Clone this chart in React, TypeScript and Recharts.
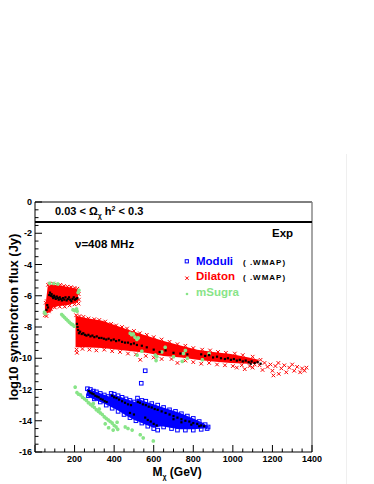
import React from 'react';
import { ComposedChart, Area, Scatter, XAxis, YAxis, ReferenceLine } from 'recharts';

const FONT = 'Liberation Sans, Arial, Helvetica, sans-serif';

// axis ticks
const massTicks = [0, 50, 100, 150, 200, 250, 300, 350, 400, 450, 500, 550, 600, 650, 700, 750, 800, 850, 900, 950, 1000, 1050, 1100, 1150, 1200, 1250, 1300, 1350, 1400];
const massLabels = [200, 400, 600, 800, 1000, 1200, 1400];
const fluxTicks = [0, -0.5, -1, -1.5, -2, -2.5, -3, -3.5, -4, -4.5, -5, -5.5, -6, -6.5, -7, -7.5, -8, -8.5, -9, -9.5, -10, -10.5, -11, -11.5, -12, -12.5, -13, -13.5, -14, -14.5, -15, -15.5, -16];
const fluxLabels = [0, -2, -4, -6, -8, -10, -12, -14, -16];

// dense cores of the scans: [M, low, high]
const dilatonCoreLow: [number, number, number][] = [
  [50, -7.15, -6.55], [56, -7.2, -6.3], [64, -7.1, -5.4], [82, -7.0, -5.3], [90, -6.75, -5.3],
  [120, -6.65, -5.35], [160, -6.6, -5.42], [195, -6.5, -5.5], [218, -6.4, -5.6],
];
const dilatonCoreHigh: [number, number, number][] = [
  [205, -9.3, -7.3], [250, -9.3, -7.4], [340, -9.35, -7.6], [420, -9.45, -7.95], [490, -9.55, -8.25],
  [560, -9.65, -8.55], [650, -9.85, -8.9], [740, -9.95, -9.2], [820, -10.1, -9.45], [900, -10.2, -9.6],
  [990, -10.3, -9.72], [1080, -10.35, -9.95], [1130, -10.3, -10.1],
];
const moduliCore: [number, number, number][] = [
  [262, -12.4, -11.95], [300, -12.65, -12.1], [340, -12.85, -12.28], [375, -13.05, -12.45], [382, -13.1, -12.25],
  [420, -13.35, -12.42], [464, -13.7, -12.62], [510, -14.0, -12.82], [516, -14.02, -12.57], [560, -14.25, -12.78],
  [600, -14.45, -12.95], [640, -14.35, -13.12], [684, -14.45, -13.3], [734, -14.55, -13.5], [800, -14.55, -13.85],
  [851, -14.5, -14.15], [876, -14.45, -14.4],
];

// scattered points: [M (GeV), log10 flux (Jy)]
const dilatonPts: [number, number][] = [
  [50, -7.25], [54, -6.45], [60, -6.35], [66, -5.3], [74, -5.25], [92, -5.22], [110, -5.3], [128, -5.3],
  [146, -5.38], [164, -5.42], [182, -5.45], [200, -5.5], [214, -5.55], [221, -5.9], [222, -6.25], [220, -6.5],
  [70, -7.0], [80, -6.85], [100, -6.75], [125, -6.7], [150, -6.7], [175, -6.62], [200, -6.55], [58, -7.3],
  [208, -7.25], [225, -7.3], [245, -7.35], [270, -7.45], [300, -7.5], [325, -7.55], [355, -7.65], [385, -7.8],
  [410, -7.9], [440, -8.0], [465, -8.1], [500, -8.25], [530, -8.4], [565, -8.5], [600, -8.65], [640, -8.8],
  [680, -8.95], [720, -9.1], [760, -9.2], [800, -9.35], [845, -9.45], [885, -9.5], [925, -9.6], [965, -9.65],
  [1010, -9.7], [1050, -9.8], [1100, -9.9],
  [210, -9.45], [212, -9.65], [240, -9.4], [275, -9.45], [310, -9.5], [350, -9.45], [390, -9.55], [430, -9.6],
  [470, -9.7], [510, -9.75], [532, -10.1], [560, -9.85], [600, -9.95], [640, -10.05], [690, -10.05], [720, -10.3],
  [760, -10.15], [800, -10.25], [840, -10.35], [880, -10.3], [920, -10.4], [960, -10.45], [1000, -10.5],
  [1020, -10.6], [1045, -10.45], [1060, -10.7], [1085, -10.5], [1100, -10.6], [1120, -10.2], [1135, -10.45],
  [1150, -10.75], [1160, -10.3], [1175, -10.55], [1190, -10.4], [1200, -10.8], [1215, -10.5], [1230, -10.3],
  [1232, -11.0], [1245, -10.65], [1260, -10.45], [1270, -10.9], [1285, -10.6], [1300, -10.4], [1310, -10.8],
  [1325, -10.55], [1340, -10.9], [1350, -10.65], [1362, -10.8], [1372, -10.6], [1205, -11.1], [1140, -10.1],
  [1110, -10.4],
];
const msugraPts: [number, number][] = [
  [48, -7.05], [52, -7.15], [74, -5.2], [95, -5.22], [115, -5.25], [218, -5.8], [222, -5.65],
  [192, -6.9], [200, -6.95], [210, -6.85], [213, -7.0],
  [135, -7.2], [142, -7.3], [150, -7.4], [158, -7.5], [166, -7.6], [174, -7.7], [182, -7.8], [190, -7.85], [198, -7.95],
  [481, -8.4], [489, -8.5], [497, -8.45], [505, -8.65], [515, -8.8], [522, -8.7], [516, -9.8], [540, -9.55],
  [608, -9.8], [612, -10.15], [616, -9.9], [641, -9.6], [658, -9.3], [700, -9.9], [744, -10.2], [750, -9.7],
  [760, -9.5], [770, -10.0], [846, -10.1], [880, -9.7],
  [203, -11.85], [212, -12.2], [220, -12.3], [230, -12.35], [240, -12.5], [250, -12.6], [260, -12.7], [270, -12.85],
  [280, -12.95], [290, -13.05], [300, -13.15], [310, -13.3], [320, -13.4], [330, -13.5], [340, -13.6], [350, -13.75],
  [360, -13.85], [370, -13.95], [380, -14.05], [390, -14.15], [400, -14.3], [410, -14.4], [418, -14.55], [355, -14.2],
  [372, -14.45], [395, -14.6], [415, -14.1], [325, -13.25], [295, -12.9], [456, -14.4], [470, -14.5], [491, -14.6],
  [532, -14.9], [547, -15.1], [598, -15.3],
];
const moduliPts: [number, number][] = [
  [557, -10.8], [537, -11.6],
  [265, -11.95], [280, -12.0], [295, -12.1], [310, -12.15], [330, -12.25], [350, -12.35], [370, -12.45], [385, -12.25],
  [400, -12.3], [420, -12.4], [440, -12.5], [460, -12.6], [480, -12.7], [500, -12.8], [518, -12.55], [540, -12.7],
  [560, -12.75], [590, -12.9], [620, -13.0], [650, -13.15], [680, -13.3], [710, -13.4], [740, -13.55], [770, -13.7],
  [800, -13.85], [830, -14.05], [860, -14.25], [875, -14.4],
  [270, -12.4], [300, -12.6], [330, -12.8], [360, -13.0], [390, -13.2], [420, -13.4], [450, -13.6], [480, -13.8],
  [510, -14.0], [540, -14.15], [570, -14.35], [600, -14.5], [620, -14.6], [650, -14.4], [690, -14.5], [720, -14.6],
  [760, -14.6], [800, -14.6], [840, -14.55], [870, -14.5],
];
// points passing the WMAP cut (black)
const dilatonWmap: [number, number][] = [
  [58, -6.9], [62, -6.6], [66, -6.75], [72, -5.95], [76, -5.8], [80, -6.0], [84, -5.9], [88, -6.05], [92, -6.15],
  [96, -6.0], [100, -6.1], [105, -6.2], [110, -6.05], [115, -6.15], [120, -6.25], [125, -6.1], [130, -6.2],
  [136, -6.3], [142, -6.15], [148, -6.25], [154, -6.1], [160, -6.3], [166, -6.2], [172, -6.1], [178, -6.25],
  [184, -6.35], [190, -6.2], [196, -6.1], [202, -6.25], [208, -6.2], [214, -6.15],
  [212, -7.8], [215, -8.0], [218, -8.2], [222, -8.4], [228, -8.3], [236, -8.45], [244, -8.4], [252, -8.5],
  [260, -8.55], [270, -8.5], [280, -8.6], [290, -8.55], [300, -8.65], [312, -8.6], [324, -8.7], [336, -8.7],
  [348, -8.75], [360, -8.8], [372, -8.75], [385, -8.85], [398, -8.8], [410, -8.9], [425, -8.85], [440, -8.95],
  [455, -9.0], [470, -9.0], [485, -9.1], [500, -9.05], [515, -9.15], [540, -9.2], [565, -9.3], [600, -9.45],
  [630, -9.6], [660, -9.5], [700, -9.65], [735, -9.7], [770, -9.75], [840, -9.75], [860, -9.85], [880, -9.8],
  [900, -9.95], [920, -9.9], [940, -10.0], [960, -10.05], [975, -10.0], [990, -10.1], [1005, -10.05], [1020, -10.15],
  [1035, -10.1], [1050, -10.2], [1065, -10.15], [1080, -10.25], [1095, -10.2], [1110, -10.3], [1125, -10.25],
  [1140, -10.35], [1090, -10.35],
];
const moduliWmap: [number, number][] = [
  [272, -12.1], [280, -12.2], [288, -12.25], [296, -12.3], [305, -12.4], [314, -12.45], [322, -12.5], [332, -12.6],
  [342, -12.65], [352, -12.75], [362, -12.8],
  [390, -12.4], [400, -12.5], [412, -12.55], [425, -12.65], [440, -12.75], [455, -12.85], [470, -12.95], [485, -13.0],
  [520, -12.8], [530, -12.85], [545, -12.95], [560, -13.0], [575, -13.1], [590, -13.15], [605, -13.25], [620, -13.3],
  [640, -13.4], [660, -13.5], [680, -13.6], [700, -13.7], [720, -13.8], [740, -13.9], [760, -14.0], [780, -14.05],
  [800, -14.15], [820, -14.2], [840, -14.3], [855, -14.35], [700, -13.9], [740, -14.1], [790, -14.25], [830, -14.35],
  [557, -13.8], [570, -13.95], [585, -14.05], [600, -14.2], [615, -14.3], [500, -13.6], [480, -13.5],
];

const toPts = (a: [number, number][]) => a.map(([m, v]) => ({ m, v }));
const toBand = (a: [number, number, number][]) => a.map(([m, lo, hi]) => ({ m, range: [lo, hi] }));

const RED = '#ff0000';
const BLUE = '#0000ff';
const GREEN = '#88e488';

const Cross = (p: any) => (
  <path d={`M${p.cx - 1.8},${p.cy - 1.8}L${p.cx + 1.8},${p.cy + 1.8}M${p.cx - 1.8},${p.cy + 1.8}L${p.cx + 1.8},${p.cy - 1.8}`} stroke={RED} strokeWidth={1} />
);
const Square = (p: any) => (
  <rect x={p.cx - 1.8} y={p.cy - 1.8} width={3.6} height={3.6} fill="none" stroke={BLUE} strokeWidth={1} />
);
const Star = (p: any) => (
  <path d={`M${p.cx - 1.8},${p.cy}L${p.cx + 1.8},${p.cy}M${p.cx},${p.cy - 1.8}L${p.cx},${p.cy + 1.8}M${p.cx - 1.3},${p.cy - 1.3}L${p.cx + 1.3},${p.cy + 1.3}M${p.cx - 1.3},${p.cy + 1.3}L${p.cx + 1.3},${p.cy - 1.3}`} stroke={GREEN} strokeWidth={1.2} />
);
const Dot = (p: any) => <rect x={p.cx - 1.1} y={p.cy - 1.1} width={2.2} height={2.2} fill="#000" />;

const MassTick = (props: any) => {
  const { x, y, payload } = props;
  const major = massLabels.includes(payload.value) || payload.value === 0;
  return (
    <g>
      <line x1={x} x2={x} y1={y} y2={y - (major ? 7 : 3.5)} stroke="#000" strokeWidth={1} />
      {massLabels.includes(payload.value) && (
        <text x={x} y={y + 9.5} textAnchor="middle" fontSize={9} fontWeight="bold" fontFamily={FONT} fill="#000">
          {payload.value}
        </text>
      )}
    </g>
  );
};

const FluxTick = (props: any) => {
  const { x, y, payload } = props;
  const major = fluxLabels.includes(payload.value);
  return (
    <g>
      <line x1={x} x2={x + (major ? 7 : 3.5)} y1={y} y2={y} stroke="#000" strokeWidth={1} />
      {major && (
        <text x={x - 3} y={y + 3.2} textAnchor="end" fontSize={9} fontWeight="bold" fontFamily={FONT} fill="#000">
          {payload.value}
        </text>
      )}
    </g>
  );
};

export default function App() {
  return (
    <div style={{ position: 'absolute', left: 0, top: 0, width: 374, height: 484, background: '#fff', fontFamily: FONT }}>
      <div style={{ position: 'absolute', left: 346, top: 154, width: 1, height: 330, background: '#efefef' }} />
      <ComposedChart width={374} height={484} margin={{ top: 202, right: 62, bottom: 0, left: 0 }}>
        <XAxis
          type="number"
          dataKey="m"
          domain={[0, 1400]}
          ticks={massTicks}
          interval={0}
          allowDataOverflow
          height={32}
          tickSize={0}
          tickMargin={0}
          tickLine={false}
          tick={MassTick}
          axisLine={{ stroke: '#000', strokeWidth: 1 }}
        />
        <YAxis
          type="number"
          dataKey="v"
          domain={[-16, 0]}
          ticks={fluxTicks}
          interval={0}
          allowDataOverflow
          width={35}
          tickSize={0}
          tickMargin={0}
          tickLine={false}
          tick={FluxTick}
          axisLine={{ stroke: '#000', strokeWidth: 1 }}
        />
        <Area data={toBand(dilatonCoreLow)} dataKey="range" type="linear" stroke="none" fill={RED} fillOpacity={1} dot={false} activeDot={false} isAnimationActive={false} />
        <Area data={toBand(dilatonCoreHigh)} dataKey="range" type="linear" stroke="none" fill={RED} fillOpacity={1} dot={false} activeDot={false} isAnimationActive={false} />
        <Scatter data={toPts(dilatonPts)} dataKey="v" shape={Cross} isAnimationActive={false} />
        <Scatter data={toPts(msugraPts)} dataKey="v" shape={Star} isAnimationActive={false} />
        <Area data={toBand(moduliCore)} dataKey="range" type="linear" stroke="none" fill={BLUE} fillOpacity={1} dot={false} activeDot={false} isAnimationActive={false} />
        <Scatter data={toPts(moduliPts)} dataKey="v" shape={Square} isAnimationActive={false} />
        <Scatter data={toPts(dilatonWmap)} dataKey="v" shape={Dot} isAnimationActive={false} />
        <Scatter data={toPts(moduliWmap)} dataKey="v" shape={Dot} isAnimationActive={false} />
        <ReferenceLine y={0} stroke="#000" strokeWidth={1} />
        <ReferenceLine x={1400} stroke="#808080" strokeWidth={1.4} />
        <ReferenceLine y={-1.28} stroke="#000" strokeWidth={1.8} />
      </ComposedChart>
      <svg width={374} height={484} style={{ position: 'absolute', left: 0, top: 0, pointerEvents: 'none' }} fontFamily={FONT} fontWeight="bold">
        <text x={55} y={215} fontSize={11} fill="#000">
          0.03 &lt; Ω<tspan fontSize={7} dy={3}>χ</tspan>
          <tspan dy={-3}> h</tspan>
          <tspan fontSize={7} dy={-4}>2</tspan>
          <tspan dy={4}> &lt; 0.3</tspan>
        </text>
        <text x={272} y={237} fontSize={11.5} fill="#000">Exp</text>
        <text x={75} y={248} fontSize={11.5} fill="#000">ν=408 MHz</text>

        <rect x={185.2} y={259.7} width={3.2} height={3.2} fill="none" stroke={BLUE} strokeWidth={1} />
        <text x={196} y={264.5} fontSize={11.5} fill={BLUE}>Moduli</text>
        <text x={243} y={264.5} fontSize={8} letterSpacing={1} fill="#000">( .WMAP)</text>
        <path d="M185.3,276.5L188.7,279.9M185.3,279.9L188.7,276.5" stroke={RED} strokeWidth={1} />
        <text x={196} y={280} fontSize={11.5} fill={RED}>Dilaton</text>
        <text x={243} y={280} fontSize={8} letterSpacing={1} fill="#000">( .WMAP)</text>
        <circle cx={187} cy={294} r={1.3} fill={GREEN} />
        <text x={196} y={295.5} fontSize={11.5} fill={GREEN}>mSugra</text>

        <text transform="translate(18,317) rotate(-90)" textAnchor="middle" fontSize={13} fill="#000">
          log10 synchrotron flux (Jy)
        </text>
        <text x={152.5} y={475.5} fontSize={12} fill="#000">
          M<tspan fontSize={7} dy={3}>χ</tspan>
          <tspan dy={-3}> (GeV)</tspan>
        </text>
      </svg>
    </div>
  );
}
